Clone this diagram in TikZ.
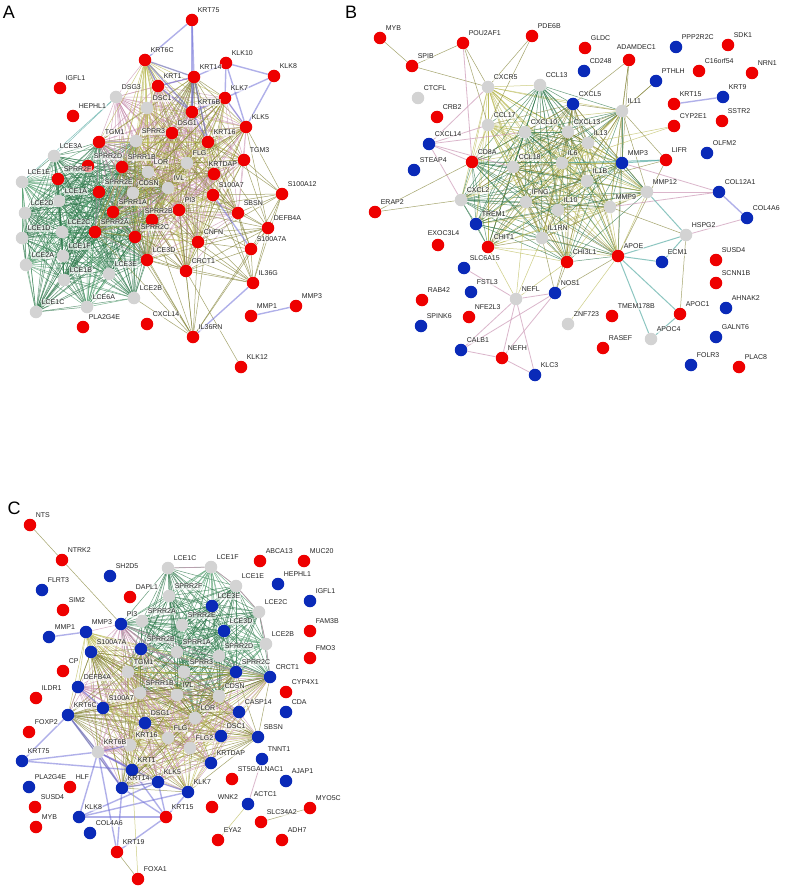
\documentclass[tikz,border=0pt]{standalone}
\usepackage{fontspec}
\setmainfont{Liberation Sans}
\definecolor{nred}{HTML}{EE0000}
\definecolor{nblue}{HTML}{0A2AB8}
\definecolor{ngray}{HTML}{D3D3D3}
\definecolor{cg}{HTML}{2A7548}
\definecolor{cgl}{HTML}{4A9A68}
\definecolor{co}{HTML}{7F7F30}
\definecolor{cy}{HTML}{B8B850}
\definecolor{cb}{HTML}{7070D8}
\definecolor{cp}{HTML}{C890B0}
\definecolor{ct}{HTML}{50A8A0}
\pgfdeclarelayer{bg}
\pgfdeclarelayer{fg}
\pgfsetlayers{bg,main,fg}
\tikzset{
 gdot/.style={circle,minimum size=12.5pt,inner sep=0pt,draw=none},
 rd/.style={fill=nred}, bl/.style={fill=nblue}, gy/.style={fill=ngray},
 lab/.style={anchor=west,font=\fontsize{7}{7}\selectfont,text=black!85,fill=white,fill opacity=0.6,text opacity=1,inner sep=0.6pt},
 ed/.style={line width=0.5pt,opacity=0.7},
 eo/.style={ed,draw=co},
 ey/.style={ed,draw=cy},
 eg/.style={ed,draw=cg},
 ep/.style={line width=0.8pt,draw=cp,opacity=0.65},
 et/.style={line width=1pt,draw=ct,opacity=0.65},
 eb/.style={line width=1.4pt,draw=cb,opacity=0.55},
 panel/.style={font=\fontsize{18}{18}\selectfont,anchor=center}
}
\newcommand\gnode[5]{\node[gdot,#4] (#1) at (#2,#3) {};
 \begin{pgfonlayer}{fg}\node[lab] (#1l) at (#2+5,#3-9.5) {#5};\end{pgfonlayer}}
\newcommand\gnodel[7]{\node[gdot,#4] (#1) at (#2,#3) {};
 \begin{pgfonlayer}{fg}\node[lab] (#1l) at (#6,#7) {#5};\end{pgfonlayer}}
\newcommand\clq[4]{%
 \foreach \u [count=\i] in {#4}{%
  \foreach \v [count=\j] in {#4}{%
   \ifnum\j>\i
    \pgfmathtruncatemacro\kk{mod(\i*5+\j*3,3)}%
    \ifcase\kk \def\ec{#1}\or\def\ec{#2}\else\def\ec{#3}\fi
    \draw[ed,draw=\ec] (\u) -- (\v);
   \fi}}}
\newcommand\stedge[3]{\foreach \v in {#3}{\draw[#1] (#2) -- (\v);}}
\begin{document}
\begin{tikzpicture}[x=1pt,y=-1pt]
\useasboundingbox (0,0) rectangle (789,888);
\begin{pgfonlayer}{bg}\fill[white] (0,0) rectangle (789,888);\end{pgfonlayer}
\node[panel] (pA) at (9,12) {A};
\node[panel] (pB) at (351,12) {B};
\node[panel] (pC) at (14,508) {C};
% ---------------- Panel A
\gnode{aKRT75}{192}{20}{rd}{KRT75}
\gnode{aKRT6C}{145}{60}{rd}{KRT6C}
\gnode{aIGFL1}{60}{88}{rd}{IGFL1}
\gnode{aHEPHL1}{73}{116}{rd}{HEPHL1}
\gnode{aKRT1}{158}{86}{rd}{KRT1}
\gnode{aDSG3}{116}{97}{gy}{DSG3}
\gnode{aDSC1}{147}{108}{gy}{DSC1}
\gnode{aKRT14}{194}{77}{rd}{KRT14}
\gnode{aKRT6B}{192}{112}{rd}{KRT6B}
\gnode{aDSG1}{172}{133}{rd}{DSG1}
\gnode{aTGM1}{99}{142}{rd}{TGM1}
\gnode{aSPRR3}{136}{141}{gy}{SPRR3}
\gnode{aLCE3A}{54}{156}{gy}{LCE3A}
\gnode{aSPRR2D}{88}{166}{rd}{SPRR2D}
\gnode{aSPRR1B}{122}{167}{rd}{SPRR1B}
\gnode{aLOR}{148}{172}{gy}{LOR}
\gnode{aFLG}{187}{163}{gy}{FLG}
\gnode{aLCE1E}{22}{182}{gy}{LCE1E}
\gnode{aSPRR2F}{58}{179}{rd}{SPRR2F}
\gnode{aSPRR2E}{99}{192}{rd}{SPRR2E}
\gnode{aCDSN}{133}{193}{gy}{CDSN}
\gnode{aIVL}{168}{188}{gy}{IVL}
\gnode{aLCE1A}{59}{201}{gy}{LCE1A}
\gnode{aLCE2D}{25}{213}{gy}{LCE2D}
\gnode{aSPRR1A}{113}{212}{rd}{SPRR1A}
\gnodel{aSPRR2B}{152}{220}{rd}{SPRR2B}{144}{211}
\gnode{aPI3}{179}{210}{rd}{PI3}
\gnode{aLCE1D}{22}{238}{gy}{LCE1D}
\gnode{aLCE2C}{62}{232}{gy}{LCE2C}
\gnode{aSPRR2A}{95}{232}{rd}{SPRR2A}
\gnode{aSPRR2C}{135}{237}{rd}{SPRR2C}
\gnode{aCNFN}{198}{242}{rd}{CNFN}
\gnode{aLCE1F}{63}{256}{gy}{LCE1F}
\gnode{aLCE2A}{26}{265}{gy}{LCE2A}
\gnode{aLCE3D}{147}{260}{rd}{LCE3D}
\gnode{aCRCT1}{186}{271}{rd}{CRCT1}
\gnode{aLCE1B}{64}{280}{gy}{LCE1B}
\gnode{aLCE3E}{109}{274}{gy}{LCE3E}
\gnode{aLCE2B}{134}{298}{gy}{LCE2B}
\gnode{aLCE1C}{36}{312}{gy}{LCE1C}
\gnode{aLCE6A}{87}{307}{gy}{LCE6A}
\gnode{aPLA2G4E}{83}{327}{rd}{PLA2G4E}
\gnode{aCXCL14}{147}{324}{rd}{CXCL14}
\gnode{aIL36RN}{193}{337}{rd}{IL36RN}
\gnode{aKLK10}{226}{63}{rd}{KLK10}
\gnode{aKLK8}{274}{76}{rd}{KLK8}
\gnode{aKLK7}{225}{98}{rd}{KLK7}
\gnode{aKLK5}{246}{127}{rd}{KLK5}
\gnode{aKRT16}{208}{142}{rd}{KRT16}
\gnode{aTGM3}{244}{160}{rd}{TGM3}
\gnodel{aKRTDAP}{214}{174}{rd}{KRTDAP}{208}{164}
\gnode{aS100A7}{213}{195}{rd}{S100A7}
\gnode{aS100A12}{282}{194}{rd}{S100A12}
\gnode{aSBSN}{238}{213}{rd}{SBSN}
\gnode{aDEFB4A}{268}{228}{rd}{DEFB4A}
\gnode{aS100A7A}{251}{249}{rd}{S100A7A}
\gnode{aIL36G}{253}{283}{rd}{IL36G}
\gnode{aMMP1}{251}{316}{rd}{MMP1}
\gnode{aMMP3}{296}{306}{rd}{MMP3}
\gnode{aKLK12}{241}{367}{rd}{KLK12}
% ---------------- Panel B
\gnode{bMYB}{380}{38}{rd}{MYB}
\gnode{bPOU2AF1}{463}{43}{rd}{POU2AF1}
\gnode{bPDE6B}{532}{36}{rd}{PDE6B}
\gnode{bSPIB}{412}{66}{rd}{SPIB}
\gnode{bCXCR5}{488}{87}{gy}{CXCR5}
\gnode{bCCL13}{540}{85}{gy}{CCL13}
\gnode{bCTCFL}{418}{98}{gy}{CTCFL}
\gnode{bCRB2}{437}{117}{rd}{CRB2}
\gnode{bCCL17}{488}{125}{gy}{CCL17}
\gnode{bCXCL10}{525}{132}{gy}{CXCL10}
\gnode{bCXCL13}{568}{132}{gy}{CXCL13}
\gnode{bCXCL14}{429}{144}{bl}{CXCL14}
\gnode{bCD8A}{472}{162}{rd}{CD8A}
\gnode{bSTEAP4}{414}{170}{bl}{STEAP4}
\gnode{bCCL18}{513}{167}{gy}{CCL18}
\gnode{bIL6}{562}{163}{gy}{IL6}
\gnode{bCXCL2}{461}{200}{gy}{CXCL2}
\gnode{bIFNG}{526}{202}{gy}{IFNG}
\gnode{bERAP2}{375}{212}{rd}{ERAP2}
\gnode{bTREM1}{476}{224}{bl}{TREM1}
\gnode{bGLDC}{585}{48}{rd}{GLDC}
\gnodel{bADAMDEC1}{629}{60}{rd}{ADAMDEC1}{616}{47}
\gnode{bPPP2R2C}{676}{47}{bl}{PPP2R2C}
\gnode{bSDK1}{728}{45}{rd}{SDK1}
\gnode{bCD248}{584}{71}{bl}{CD248}
\gnode{bC16orf54}{699}{71}{rd}{C16orf54}
\gnode{bNRN1}{752}{73}{rd}{NRN1}
\gnode{bPTHLH}{656}{81}{bl}{PTHLH}
\gnode{bCXCL5}{573}{104}{bl}{CXCL5}
\gnode{bIL11}{622}{111}{gy}{IL11}
\gnode{bKRT15}{674}{104}{rd}{KRT15}
\gnode{bKRT9}{723}{97}{bl}{KRT9}
\gnode{bCYP2E1}{674}{126}{rd}{CYP2E1}
\gnode{bSSTR2}{722}{121}{rd}{SSTR2}
\gnode{bOLFM2}{707}{153}{bl}{OLFM2}
\gnode{bIL13}{588}{143}{gy}{IL13}
\gnode{bMMP3}{622}{163}{bl}{MMP3}
\gnode{bLIFR}{666}{160}{rd}{LIFR}
\gnode{bIL1B}{587}{181}{gy}{IL1B}
\gnode{bMMP12}{647}{192}{gy}{MMP12}
\gnode{bCOL12A1}{719}{192}{bl}{COL12A1}
\gnode{bIL10}{558}{210}{gy}{IL10}
\gnode{bMMP9}{610}{207}{gy}{MMP9}
\gnode{bCOL4A6}{747}{218}{bl}{COL4A6}
\gnode{bIL1RN}{542}{238}{gy}{IL1RN}
\gnode{bCHIT1}{488}{247}{rd}{CHIT1}
\gnodel{bEXOC3L4}{438}{245}{rd}{EXOC3L4}{427}{233}
\gnode{bSLC6A15}{464}{268}{bl}{SLC6A15}
\gnode{bCHI3L1}{567}{262}{rd}{CHI3L1}
\gnode{bFSTL3}{471}{292}{bl}{FSTL3}
\gnode{bNEFL}{516}{299}{gy}{NEFL}
\gnode{bNOS1}{555}{293}{bl}{NOS1}
\gnode{bRAB42}{422}{300}{rd}{RAB42}
\gnode{bNFE2L3}{469}{317}{rd}{NFE2L3}
\gnode{bSPINK6}{421}{326}{bl}{SPINK6}
\gnode{bZNF723}{568}{324}{gy}{ZNF723}
\gnode{bCALB1}{461}{350}{bl}{CALB1}
\gnode{bNEFH}{502}{358}{rd}{NEFH}
\gnode{bKLC3}{535}{375}{bl}{KLC3}
\gnode{bHSPG2}{686}{235}{gy}{HSPG2}
\gnode{bAPOE}{618}{256}{rd}{APOE}
\gnode{bECM1}{662}{262}{bl}{ECM1}
\gnode{bSUSD4}{716}{260}{rd}{SUSD4}
\gnode{bSCNN1B}{716}{283}{rd}{SCNN1B}
\gnode{bAHNAK2}{726}{308}{bl}{AHNAK2}
\gnode{bTMEM178B}{612}{316}{rd}{TMEM178B}
\gnode{bAPOC1}{680}{314}{rd}{APOC1}
\gnode{bAPOC4}{651}{339}{gy}{APOC4}
\gnode{bRASEF}{603}{348}{rd}{RASEF}
\gnode{bGALNT6}{716}{337}{bl}{GALNT6}
\gnode{bFOLR3}{691}{365}{bl}{FOLR3}
\gnode{bPLAC8}{739}{367}{rd}{PLAC8}
% ---------------- Panel C
\gnode{cNTS}{30}{525}{rd}{NTS}
\gnode{cNTRK2}{62}{560}{rd}{NTRK2}
\gnode{cLCE1C}{168}{568}{gy}{LCE1C}
\gnode{cSH2D5}{110}{576}{bl}{SH2D5}
\gnode{cFLRT3}{42}{590}{bl}{FLRT3}
\gnode{cDAPL1}{130}{597}{rd}{DAPL1}
\gnode{cSPRR2F}{169}{596}{gy}{SPRR2F}
\gnode{cSIM2}{63}{610}{rd}{SIM2}
\gnode{cPI3}{121}{624}{bl}{PI3}
\gnode{cSPRR2A}{142}{621}{gy}{SPRR2A}
\gnode{cMMP1}{49}{637}{bl}{MMP1}
\gnode{cMMP3}{86}{632}{bl}{MMP3}
\gnode{cSPRR2E}{182}{625}{gy}{SPRR2E}
\gnode{cS100A7A}{91}{652}{bl}{S100A7A}
\gnode{cSPRR2B}{141}{649}{bl}{SPRR2B}
\gnode{cSPRR1A}{177}{652}{gy}{SPRR1A}
\gnode{cCP}{63}{671}{rd}{CP}
\gnode{cTGM1}{128}{672}{gy}{TGM1}
\gnode{cSPRR3}{184}{672}{gy}{SPRR3}
\gnode{cDEFB4A}{78}{687}{bl}{DEFB4A}
\gnode{cILDR1}{36}{698}{rd}{ILDR1}
\gnode{cSPRR1B}{140}{693}{gy}{SPRR1B}
\gnode{cIVL}{177}{695}{gy}{IVL}
\gnode{cKRT6C}{68}{715}{bl}{KRT6C}
\gnode{cS100A7}{103}{708}{bl}{S100A7}
\gnode{cFOXP2}{29}{732}{rd}{FOXP2}
\gnode{cDSG1}{145}{723}{bl}{DSG1}
\gnode{cLOR}{195}{718}{gy}{LOR}
\gnode{cKRT6B}{98}{752}{gy}{KRT6B}
\gnode{cKRT16}{130}{745}{gy}{KRT16}
\gnode{cFLG}{168}{738}{gy}{FLG}
\gnode{cFLG2}{190}{748}{gy}{FLG2}
\gnode{cKRT75}{22}{761}{bl}{KRT75}
\gnode{cKRT1}{132}{770}{bl}{KRT1}
\gnode{cKRTDAP}{211}{763}{bl}{KRTDAP}
\gnode{cPLA2G4E}{29}{787}{bl}{PLA2G4E}
\gnode{cHLF}{70}{787}{rd}{HLF}
\gnode{cKRT14}{122}{788}{bl}{KRT14}
\gnode{cKLK5}{158}{782}{bl}{KLK5}
\gnode{cKLK7}{188}{792}{bl}{KLK7}
\gnode{cSUSD4}{35}{807}{rd}{SUSD4}
\gnode{cKLK8}{79}{817}{bl}{KLK8}
\gnode{cKRT15}{166}{817}{rd}{KRT15}
\gnode{cMYB}{36}{827}{rd}{MYB}
\gnode{cCOL4A6}{90}{833}{bl}{COL4A6}
\gnode{cKRT19}{117}{852}{rd}{KRT19}
\gnode{cFOXA1}{138}{879}{rd}{FOXA1}
\gnode{cLCE1F}{211}{567}{gy}{LCE1F}
\gnode{cABCA13}{260}{561}{rd}{ABCA13}
\gnode{cMUC20}{304}{561}{rd}{MUC20}
\gnode{cLCE1E}{236}{586}{gy}{LCE1E}
\gnode{cHEPHL1}{278}{584}{bl}{HEPHL1}
\gnode{cLCE3E}{212}{606}{bl}{LCE3E}
\gnode{cIGFL1}{310}{601}{bl}{IGFL1}
\gnode{cLCE2C}{259}{612}{gy}{LCE2C}
\gnode{cLCE3D}{224}{631}{bl}{LCE3D}
\gnode{cFAM3B}{310}{631}{rd}{FAM3B}
\gnode{cLCE2B}{266}{644}{gy}{LCE2B}
\gnode{cSPRR2D}{219}{656}{gy}{SPRR2D}
\gnode{cFMO3}{310}{658}{rd}{FMO3}
\gnode{cSPRR2C}{236}{672}{bl}{SPRR2C}
\gnode{cCRCT1}{270}{677}{bl}{CRCT1}
\gnode{cCYP4X1}{286}{692}{rd}{CYP4X1}
\gnode{cCDSN}{219}{696}{gy}{CDSN}
\gnode{cCASP14}{239}{712}{bl}{CASP14}
\gnode{cCDA}{286}{712}{bl}{CDA}
\gnode{cDSC1}{221}{736}{bl}{DSC1}
\gnode{cSBSN}{258}{737}{bl}{SBSN}
\gnode{cTNNT1}{262}{759}{bl}{TNNT1}
\gnode{cST5GALNAC1}{232}{779}{rd}{ST5GALNAC1}
\gnode{cAJAP1}{286}{781}{bl}{AJAP1}
\gnode{cACTC1}{248}{804}{bl}{ACTC1}
\gnode{cMYO5C}{310}{808}{rd}{MYO5C}
\gnode{cWNK2}{212}{807}{rd}{WNK2}
\gnode{cSLC34A2}{261}{822}{rd}{SLC34A2}
\gnode{cEYA2}{218}{840}{rd}{EYA2}
\gnode{cADH7}{282}{840}{rd}{ADH7}
% ================= edges
\begin{pgfonlayer}{bg}
% --- A
\clq{cg}{cgl}{cg}{aLCE3A,aLCE1E,aLCE2D,aLCE1D,aLCE2A,aLCE1C,aLCE1A,aLCE2C,aLCE1F,aLCE1B,aLCE6A,aLCE3E,aLCE2B,aLCE3D,aSPRR2F,aSPRR2D,aSPRR2E,aSPRR2A,aSPRR1A,aSPRR2B,aSPRR2C,aSPRR1B,aSPRR3,aTGM1,aCDSN,aLOR,aIVL}
\clq{co}{cy}{cp}{aDSG3,aDSC1,aDSG1,aKRT1,aKRT6C,aKRT14,aKRT6B,aKRT16,aFLG,aLOR,aIVL,aCDSN,aTGM1,aSPRR3,aSPRR1B,aKRTDAP,aS100A7,aPI3,aSBSN,aCNFN,aCRCT1,aTGM3,aSPRR2B,aSPRR2C,aLCE3D,aSPRR1A,aSPRR2A,aKLK5,aKLK7}
\stedge{eo}{aS100A12}{aS100A7,aDEFB4A,aS100A7A,aPI3,aSBSN,aKRT16,aTGM3,aCNFN,aIL36G,aKLK5}
\stedge{eo}{aDEFB4A}{aS100A7,aPI3,aSBSN,aS100A7A,aKRT16,aIL36G,aCNFN,aSPRR2C,aLCE3D,aCRCT1,aKLK5,aTGM3}
\stedge{eo}{aS100A7A}{aPI3,aSBSN,aIL36G,aKRT16,aCNFN,aCRCT1}
\stedge{eo}{aIL36G}{aPI3,aS100A7,aCNFN,aCRCT1,aLCE3D,aSPRR2C,aSBSN,aKRTDAP,aSPRR2B}
\stedge{eo}{aIL36RN}{aCRCT1,aLCE3D,aSPRR2C,aSPRR2A,aPI3,aCNFN,aS100A7,aDEFB4A,aS100A7A,aLCE2B,aSPRR2B,aSPRR1A}
\draw[eo] (aKLK12) -- (aCRCT1);
\stedge{eb}{aKRT75}{aKRT6C,aKRT14,aKRT6B}
\stedge{eb}{aKRT6C}{aKRT14,aKRT6B,aKRT1}
\stedge{eb}{aKRT14}{aKRT6B,aKRT16,aKRT1}
\stedge{eb}{aKRT6B}{aKRT1,aKRT16}
\stedge{eb}{aKLK10}{aKLK8,aKLK7,aKLK5,aKRT14}
\stedge{eb}{aKLK8}{aKLK7,aKLK5}
\stedge{eb}{aKLK7}{aKLK5,aKRT6B}
\draw[eb] (aMMP1) -- (aMMP3);
\draw[eb] (aIL36G) -- (aIL36RN);
\draw[eb] (aS100A7) -- (aS100A7A);
\draw[ed,draw=ct] (aDSG3) -- (aLCE3A);
\draw[ed,draw=ct] (aDSG3) -- (aLCE1E);
% --- B
\clq{co}{cg}{cy}{bCXCR5,bCCL13,bCXCL5,bCCL17,bCXCL10,bCXCL13,bIL13,bCD8A,bCCL18,bIL6,bCXCL2,bIFNG,bIL1B,bMMP3,bIL10,bMMP9,bTREM1,bIL1RN,bCHIT1,bCHI3L1,bIL11,bMMP12,bAPOE}
\draw[eo] (bMYB) -- (bSPIB);
\stedge{eo}{bSPIB}{bPOU2AF1,bCXCR5}
\stedge{eo}{bPOU2AF1}{bCXCR5,bCCL17}
\draw[ep] (bPOU2AF1) -- (bCD8A);
\stedge{eo}{bPDE6B}{bCXCR5,bCCL17}
\stedge{ep}{bCXCL14}{bCXCR5,bCCL17,bCXCL10,bCD8A,bCXCL2,bCCL18}
\stedge{eo}{bERAP2}{bCD8A,bCXCL2}
\stedge{eo}{bADAMDEC1}{bIL11,bMMP9,bMMP3,bCXCL5}
\stedge{eo}{bPTHLH}{bIL11,bIL6}
\stedge{ey}{bCYP2E1}{bIL13,bIL6}
\stedge{et}{bLIFR}{bIL6,bMMP3}
\stedge{eo}{bLIFR}{bIL1B,bAPOE,bIL11}
\stedge{ep}{bCOL12A1}{bMMP3,bMMP12,bMMP9}
\draw[et] (bMMP12) -- (bHSPG2);
\draw[eo] (bMMP9) -- (bHSPG2);
\draw[eb] (bCOL12A1) -- (bCOL4A6);
\draw[ep] (bCOL4A6) -- (bHSPG2);
\draw[et] (bHSPG2) -- (bECM1);
\draw[et] (bHSPG2) -- (bAPOE);
\draw[eo] (bHSPG2) -- (bAPOC1);
\draw[eb] (bKRT15) -- (bKRT9);
\stedge{et}{bAPOE}{bECM1,bAPOC1,bAPOC4}
\stedge{eo}{bAPOE}{bNOS1}
\draw[et] (bAPOC1) -- (bAPOC4);
\draw[ey] (bZNF723) -- (bAPOE);
\stedge{ep}{bNEFL}{bNOS1,bNEFH,bKLC3,bCALB1,bSLC6A15}
\stedge{ey}{bNEFL}{bCHIT1,bIL1RN,bIFNG,bCHI3L1}
\stedge{ep}{bNOS1}{bCALB1,bNEFH}
\stedge{eo}{bNOS1}{bIL1RN,bCHI3L1,bIL1B}
\stedge{ep}{bNEFH}{bCALB1,bKLC3}
% --- C
\clq{cg}{cgl}{cg}{cLCE1C,cLCE1F,cLCE1E,cLCE2C,cLCE2B,cSPRR2F,cSPRR2A,cSPRR2E,cLCE3E,cLCE3D,cSPRR2B,cSPRR1A,cSPRR2D,cSPRR3,cSPRR2C,cTGM1,cSPRR1B,cIVL,cCDSN,cLOR,cPI3,cCRCT1}
\clq{co}{cy}{cp}{cPI3,cMMP3,cS100A7A,cDEFB4A,cS100A7,cKRT6C,cKRT6B,cKRT16,cDSG1,cFLG,cFLG2,cLOR,cCASP14,cDSC1,cSBSN,cKRTDAP,cKRT1,cKRT14,cKLK5,cKLK7,cCDSN,cIVL,cTGM1,cSPRR1B,cSPRR2B,cCRCT1,cSPRR2C}
\draw[ep] (cLCE1C) -- (cLCE1F);
\draw[ep] (cLCE1F) -- (cLCE1E);
\draw[ep] (cLCE1E) -- (cLCE2C);
\draw[ep] (cLCE2C) -- (cLCE2B);
\draw[ep] (cLCE2B) -- (cCRCT1);
\stedge{eb}{cKRT75}{cKRT6B,cKRT6C,cKRT1}
\stedge{eb}{cKRT6C}{cKRT6B,cKRT14}
\stedge{eb}{cKRT6B}{cKRT14,cKRT1,cKRT16,cKLK8,cKRT19,cKLK5}
\stedge{eb}{cKRT14}{cKRT19,cKRT15,cKLK5,cKRT1}
\stedge{eb}{cKRT15}{cKRT19,cKLK5,cKLK7,cKLK8,cKRT1}
\stedge{eb}{cKLK8}{cKLK5,cKLK7}
\draw[eb] (cKLK5) -- (cKLK7);
\draw[eb] (cMMP1) -- (cMMP3);
\draw[eb] (cDEFB4A) -- (cS100A7);
\draw[eo] (cNTS) -- (cNTRK2);
\draw[eo] (cNTRK2) -- (cPI3);
\draw[eo] (cKRT19) -- (cFOXA1);
\draw[ey] (cFOXA1) -- (cKRT1);
\draw[ep] (cTNNT1) -- (cACTC1);
\draw[ey] (cACTC1) -- (cEYA2);
\draw[eo] (cSLC34A2) -- (cMYO5C);
\end{pgfonlayer}
\end{tikzpicture}
\end{document}
